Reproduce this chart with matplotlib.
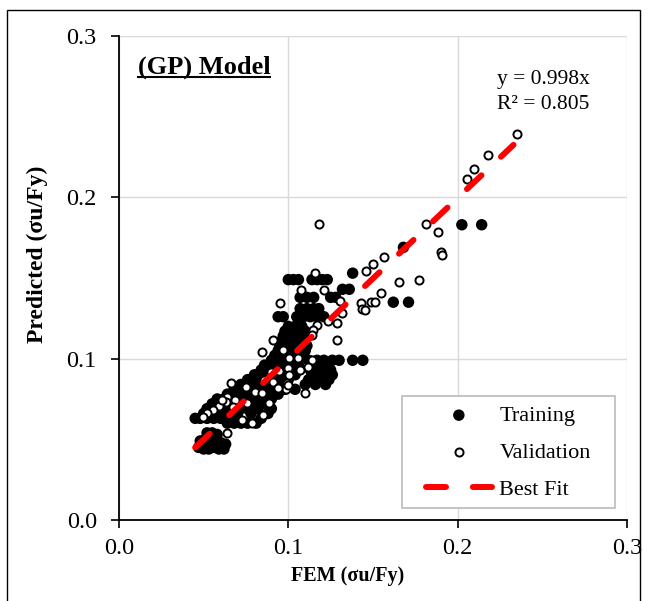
import numpy as np
import matplotlib
matplotlib.use("Agg")
import matplotlib.pyplot as plt
from matplotlib.patches import Rectangle

plt.rcParams['font.family'] = ['Liberation Serif', 'DejaVu Serif']

# (FEM, Predicted) pairs, sigma_u / Fy
training = [
    # lower cluster
    (0.047, 0.045), (0.050, 0.044), (0.053, 0.044), (0.056, 0.045), (0.059, 0.044),
    (0.062, 0.044), (0.048, 0.049), (0.051, 0.050), (0.054, 0.051), (0.057, 0.050),
    (0.060, 0.048), (0.052, 0.054), (0.055, 0.054), (0.058, 0.053), (0.050, 0.047),
    (0.063, 0.047),
    # main band
    (0.064, 0.060), (0.068, 0.060), (0.072, 0.060), (0.076, 0.060), (0.081, 0.060),
    (0.045, 0.063), (0.048, 0.063), (0.052, 0.063), (0.056, 0.063), (0.060, 0.063), (0.084, 0.063),
    (0.050, 0.066), (0.054, 0.066), (0.058, 0.066), (0.062, 0.066), (0.066, 0.066), (0.070, 0.066),
    (0.078, 0.066), (0.088, 0.066),
    (0.052, 0.069), (0.056, 0.069), (0.060, 0.069), (0.064, 0.069), (0.068, 0.069), (0.072, 0.069),
    (0.076, 0.069), (0.082, 0.069), (0.090, 0.069),
    (0.055, 0.072), (0.059, 0.072), (0.063, 0.072), (0.067, 0.072), (0.071, 0.072), (0.075, 0.072),
    (0.080, 0.072), (0.086, 0.072),
    (0.058, 0.075), (0.062, 0.075), (0.066, 0.075), (0.070, 0.075), (0.074, 0.075), (0.078, 0.075),
    (0.083, 0.075), (0.090, 0.075),
    (0.064, 0.078), (0.068, 0.078), (0.072, 0.078), (0.076, 0.078), (0.080, 0.078), (0.084, 0.078),
    (0.088, 0.078), (0.094, 0.078),
    (0.068, 0.081), (0.072, 0.081), (0.076, 0.081), (0.080, 0.081), (0.084, 0.081), (0.088, 0.081),
    (0.092, 0.081), (0.098, 0.081), (0.104, 0.081),
    (0.072, 0.084), (0.076, 0.084), (0.080, 0.084), (0.084, 0.084), (0.088, 0.084), (0.092, 0.084),
    (0.096, 0.084), (0.110, 0.084), (0.116, 0.084), (0.122, 0.084),
    (0.076, 0.087), (0.080, 0.087), (0.084, 0.087), (0.088, 0.087), (0.092, 0.087), (0.096, 0.087),
    (0.100, 0.087), (0.112, 0.087), (0.118, 0.087), (0.124, 0.087),
    (0.080, 0.090), (0.084, 0.090), (0.088, 0.090), (0.092, 0.090), (0.096, 0.090), (0.100, 0.090),
    (0.104, 0.090), (0.114, 0.090), (0.120, 0.090), (0.126, 0.090),
    (0.084, 0.093), (0.088, 0.093), (0.092, 0.093), (0.096, 0.093), (0.100, 0.093), (0.104, 0.093),
    (0.113, 0.093), (0.119, 0.093), (0.125, 0.093),
    (0.086, 0.096), (0.090, 0.096), (0.094, 0.096), (0.098, 0.096), (0.102, 0.096), (0.106, 0.096),
    (0.116, 0.096), (0.122, 0.096),
    (0.090, 0.099), (0.094, 0.099), (0.098, 0.099), (0.102, 0.099), (0.106, 0.099), (0.112, 0.099),
    (0.117, 0.099), (0.121, 0.099), (0.126, 0.099), (0.130, 0.099), (0.138, 0.099), (0.144, 0.099),
    (0.092, 0.102), (0.096, 0.102), (0.100, 0.102), (0.104, 0.102), (0.108, 0.102),
    (0.094, 0.105), (0.098, 0.105), (0.102, 0.105), (0.106, 0.105), (0.110, 0.105),
    (0.095, 0.108), (0.099, 0.108), (0.103, 0.108), (0.107, 0.108), (0.111, 0.108),
    (0.096, 0.111), (0.100, 0.111), (0.104, 0.111), (0.108, 0.111),
    (0.097, 0.114), (0.101, 0.114), (0.105, 0.114), (0.109, 0.114),
    (0.098, 0.117), (0.102, 0.117), (0.106, 0.117), (0.110, 0.117),
    (0.100, 0.120), (0.104, 0.120), (0.108, 0.120),
    (0.094, 0.126), (0.097, 0.126), (0.105, 0.126), (0.109, 0.126), (0.113, 0.126), (0.117, 0.126),
    (0.121, 0.126),
    (0.107, 0.131), (0.111, 0.131), (0.115, 0.131), (0.118, 0.131),
    (0.107, 0.138), (0.111, 0.138), (0.115, 0.138), (0.125, 0.138), (0.128, 0.138),
    (0.132, 0.143), (0.136, 0.143),
    (0.100, 0.149), (0.103, 0.149), (0.106, 0.149), (0.114, 0.149), (0.117, 0.149), (0.120, 0.149),
    (0.123, 0.149),
    (0.138, 0.153), (0.162, 0.135), (0.171, 0.135), (0.168, 0.169),
    (0.2025, 0.183), (0.2142, 0.183),
]

validation = [
    (0.2353, 0.2391), (0.2181, 0.2263), (0.2097, 0.2174), (0.2057, 0.2114), (0.1811, 0.1835),
    (0.1882, 0.1785), (0.1902, 0.1660), (0.1908, 0.1643), (0.1567, 0.1630), (0.1654, 0.1477),
    (0.1774, 0.1486), (0.1548, 0.1405), (0.1498, 0.1585), (0.1457, 0.1544), (0.1487, 0.1353),
    (0.1512, 0.1353), (0.1429, 0.1343), (0.1433, 0.1308), (0.1453, 0.1300), (0.1305, 0.1358),
    (0.1315, 0.1280), (0.1290, 0.1223), (0.1237, 0.1236), (0.1290, 0.1116), (0.1158, 0.1529),
    (0.1213, 0.1426), (0.1073, 0.1426), (0.1168, 0.1209), (0.1148, 0.1178), (0.1138, 0.1147),
    (0.0951, 0.1345), (0.1006, 0.1002), (0.1060, 0.1002), (0.0970, 0.1054), (0.1138, 0.0992),
    (0.1118, 0.0950), (0.1000, 0.0940), (0.0990, 0.0847), (0.1183, 0.1835), (0.0908, 0.1116),
    (0.0843, 0.1043), (0.0945, 0.0926), (0.1006, 0.0899), (0.1069, 0.0930), (0.0662, 0.0847),
    (0.0748, 0.0823), (0.0803, 0.0796), (0.0843, 0.0786), (0.0882, 0.0868), (0.0986, 0.0810),
    (0.0636, 0.0765), (0.0896, 0.0919), (0.0685, 0.0744), (0.0630, 0.0733), (0.0591, 0.0707),
    (0.0557, 0.0682), (0.0518, 0.0661), (0.0494, 0.0637), (0.0725, 0.0620), (0.0784, 0.0600),
    (0.0853, 0.0651), (0.0912, 0.0857), (0.0636, 0.0541), (0.0675, 0.0702), (0.0754, 0.0723),
    (0.0888, 0.0723), (0.0858, 0.0868), (0.0941, 0.0816), (0.1000, 0.0837), (0.1099, 0.0786),
    (0.0606, 0.0744),
]

fit_slope = 0.998
fit_r2 = 0.805
fit_fem = [0.045, 0.233]

train_x, train_y = np.array(training).T
val_x, val_y = np.array(validation).T

fig = plt.figure(figsize=(6.53, 6.01), dpi=100)
ax = fig.add_axes([0.1822, 0.1348, 0.7779, 0.8053])

ax.scatter(train_x, train_y, s=68, c='black', edgecolors='none', zorder=3, label='Training')
ax.scatter(val_x, val_y, s=34, facecolors='white', edgecolors='black', linewidths=1.4,
           zorder=4, label='Validation')
fit_x = np.array(fit_fem)
ax.plot(fit_x, fit_slope * fit_x, color='red', lw=4.3, dashes=(3.35, 4.5),
        dash_capstyle='round', zorder=5, label='Best Fit')

ax.set_xlim(0, 0.3)
ax.set_ylim(0, 0.3)
ticks = [0.0, 0.1, 0.2, 0.3]
ax.set_xticks(ticks)
ax.set_yticks(ticks)
ax.set_xticklabels(['0.0', '0.1', '0.2', '0.3'])
ax.set_yticklabels(['0.0', '0.1', '0.2', '0.3'])
ax.tick_params(direction='out', length=6, width=1.2, labelsize=17.5, color='black')
ax.tick_params(axis='y', pad=10)
ax.tick_params(axis='x', pad=7)
ax.grid(True, color='#d9d9d9', lw=1.0, zorder=0)
ax.set_axisbelow(True)
for side in ['top', 'right']:
    ax.spines[side].set_visible(False)
for side in ['left', 'bottom']:
    ax.spines[side].set_linewidth(1.3)

ax.set_xlabel('FEM (σu/Fy)', fontsize=14.5, fontweight='bold')
ax.set_ylabel('Predicted (σu/Fy)', fontsize=17, fontweight='bold')
ax.xaxis.set_label_coords(0.451, -0.095)
ax.yaxis.set_label_coords(-0.14, 0.548)

title = ax.text(0.037, 0.9215, '(GP) Model', transform=ax.transAxes, fontsize=19,
                fontweight='bold', va='baseline', ha='left')
ax.text(0.744, 0.9008, 'y = 0.998x', transform=ax.transAxes, fontsize=15.5, va='baseline')
ax.text(0.744, 0.849, 'R² = 0.805', transform=ax.transAxes, fontsize=15.5, va='baseline')

# legend box drawn separately so its padding can be set freely
ax.add_patch(Rectangle((0.557, 0.025), 0.419, 0.231, transform=ax.transAxes,
                       facecolor='white', edgecolor='#bfbfbf', lw=1.3, zorder=6))
leg = ax.legend(loc='center', bbox_to_anchor=(0.766, 0.139), fontsize=16,
                frameon=False, handlelength=3.0, handletextpad=0.32, labelspacing=0.74,
                borderpad=0, borderaxespad=0)
leg.set_zorder(7)

# underline for the model label
fig.canvas.draw()
bb = title.get_window_extent().transformed(ax.transAxes.inverted())
uy = 0.9215 - 3.5 / (0.8053 * 601)
ax.plot([bb.x0, bb.x1], [uy, uy], color='black', lw=1.5, transform=ax.transAxes,
        clip_on=False)

# outer frame around the figure
fig.patches.append(Rectangle((7 / 653, -0.01), 633 / 653, 1.0 - 10 / 601 + 0.01,
                             transform=fig.transFigure, fill=False, edgecolor='black',
                             lw=1.0))

fig.savefig('out.png', dpi=100)
